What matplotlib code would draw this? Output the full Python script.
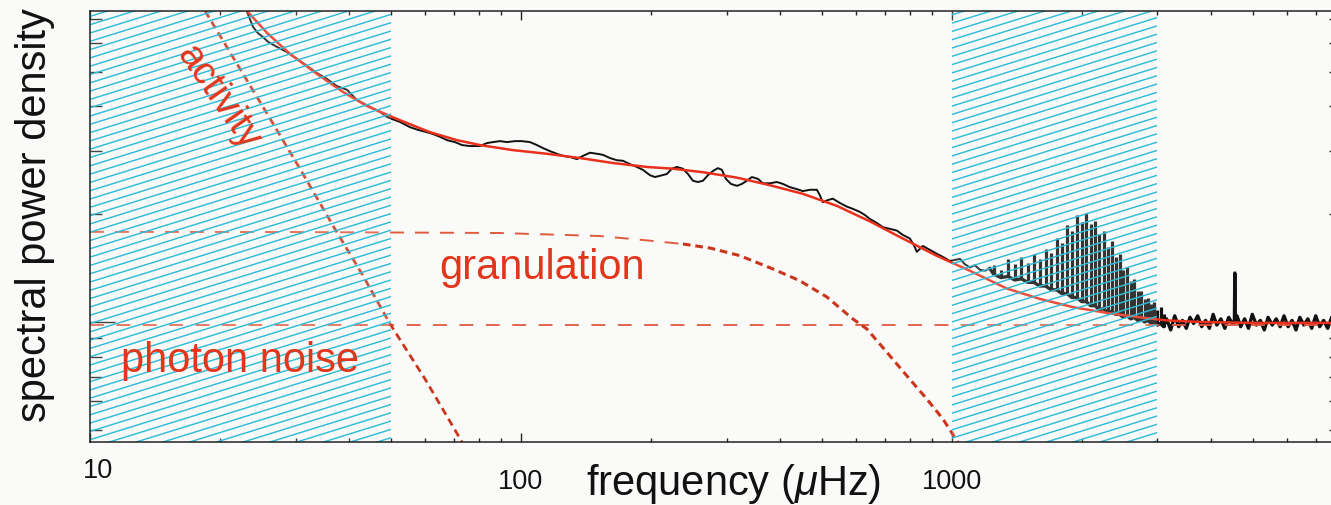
import numpy as np
import matplotlib
matplotlib.use("Agg")
import matplotlib.pyplot as plt
from matplotlib.collections import LineCollection
from matplotlib.ticker import FixedLocator, FixedFormatter, NullFormatter

plt.rcParams['font.family'] = ['Liberation Sans', 'DejaVu Sans']
plt.rcParams['mathtext.fontset'] = 'custom'
plt.rcParams['mathtext.rm'] = 'Liberation Sans'
plt.rcParams['mathtext.it'] = 'Liberation Sans:italic'
plt.rcParams['lines.scale_dashes'] = False

# ---------------------------------------------------------------------------
# Observed (smoothed) power spectrum, frequency in microhertz
spec_freq = [23.1, 23.5, 23.9, 24.5, 25.2, 25.9, 27.2, 28.6, 30.2, 31.9, 33.6, 35.5,
             37.4, 39.5, 41.6, 44.6, 47.1, 48.9, 50.2, 52.4, 55.3, 57.7, 59.9, 62.5,
             64.9, 67.4, 70.3, 73.0, 76.2, 80.3, 83.4, 86.1, 89.4, 92.8, 96.9, 100.5,
             104.9, 108.9, 112.5, 116.8, 121.2, 125.2, 129.9, 134.9, 139.3, 144.6, 150.1,
             155.0, 160.9, 167.0, 172.5, 179.0, 185.8, 191.9, 199.3, 204.6, 210.2, 218.1,
             224.0, 230.1, 237.6, 244.1, 250.7, 257.5, 264.5, 271.6, 279.0, 286.5, 292.7,
             299.0, 307.1, 317.1, 325.7, 334.5, 343.6, 354.8, 364.3, 378.2, 392.6, 405.5,
             420.9, 436.9, 451.1, 468.3, 486.2, 493.9, 501.9, 515.5, 529.5, 549.6, 570.6,
             589.1, 611.6, 628.2, 645.2, 669.9, 691.7, 718.0, 745.4, 769.7, 799.1, 816.3,
             829.4, 842.9, 856.5, 889.2, 923.1, 953.0, 989.4, 1016, 1044, 1072, 1101,
             1131, 1161, 1193, 1225]
spec_power = [7.39, 7.02, 6.67, 6.42, 6.25, 6.06, 5.86, 5.68, 5.43, 5.19, 4.96, 4.77,
              4.56, 4.45, 4.17, 3.99, 3.86, 3.74, 3.69, 3.62, 3.50, 3.44, 3.40, 3.35,
              3.29, 3.22, 3.18, 3.12, 3.10, 3.10, 3.16, 3.18, 3.20, 3.18, 3.20, 3.20,
              3.18, 3.12, 3.06, 3.00, 2.95, 2.91, 2.89, 2.85, 2.91, 2.97, 2.95,
              2.93, 2.87, 2.83, 2.82, 2.76, 2.71, 2.66, 2.57, 2.54, 2.56, 2.59,
              2.68, 2.71, 2.68, 2.59, 2.48, 2.46, 2.48, 2.57, 2.64, 2.69, 2.66,
              2.51, 2.43, 2.40, 2.43, 2.48, 2.54, 2.51, 2.44, 2.44, 2.46, 2.43,
              2.38, 2.35, 2.32, 2.34, 2.34, 2.26, 2.16, 2.19, 2.21, 2.15, 2.10,
              2.07, 2.03, 1.99, 1.94, 1.89, 1.84, 1.82, 1.80, 1.75, 1.71, 1.64,
              1.57, 1.60, 1.63, 1.59, 1.55, 1.52, 1.48, 1.49, 1.50, 1.45, 1.42,
              1.44, 1.40, 1.39, 1.41]

# p-mode comb: mode frequency, peak height, level at the foot of each peak
mode_freq = [1250, 1300, 1350, 1400, 1450, 1500, 1550, 1600, 1650, 1700, 1750, 1800,
             1850, 1900, 1950, 2000, 2050, 2100, 2150, 2200, 2250, 2300, 2350, 2400,
             2450, 2500, 2550, 2600, 2650, 2700, 2750, 2800, 2850, 2900, 2950, 3000,
             3050, 3100]
mode_top = [1.44, 1.40, 1.50, 1.45, 1.52, 1.46, 1.55, 1.50, 1.60, 1.56, 1.72, 1.66,
            1.87, 1.80, 1.99, 1.90, 2.02, 1.88, 1.92, 1.76, 1.80, 1.62, 1.68, 1.52,
            1.55, 1.40, 1.42, 1.30, 1.32, 1.22, 1.22, 1.16, 1.17, 1.12, 1.14, 1.08,
            1.10, 1.05]
mode_base = [1.36, 1.33, 1.34, 1.31, 1.32, 1.29, 1.29, 1.26, 1.26, 1.23, 1.23, 1.20,
             1.20, 1.17, 1.17, 1.14, 1.14, 1.11, 1.11, 1.08, 1.09, 1.06, 1.07, 1.05,
             1.05, 1.03, 1.04, 1.02, 1.03, 1.01, 1.02, 1.00, 1.01, 0.99, 1.00, 0.98,
             0.99, 0.97]

# white-noise dominated high-frequency end
noise_freq = [3150, 3220, 3290, 3360, 3430, 3500, 3570, 3640, 3720, 3800, 3880, 3960,
              4040, 4120, 4210, 4300, 4390, 4480, 4526, 4536, 4546, 4590, 4680, 4780,
              4880, 4980, 5090, 5200, 5310, 5420, 5540, 5660, 5780, 5900, 6030, 6160,
              6290, 6420, 6560, 6700, 6840, 6990, 7140, 7290, 7450, 7610, 7770, 7940]
noise_power = [1.02, 0.95, 1.04, 0.97, 1.01, 0.96, 1.03, 0.99, 1.04, 0.97, 1.01, 0.96,
               1.05, 0.98, 1.02, 0.96, 1.03, 0.99, 1.00, 1.37, 1.00, 1.04, 0.97, 1.02,
               0.96, 1.05, 0.98, 1.01, 0.95, 1.03, 0.98, 1.02, 0.97, 1.04, 0.97, 1.01,
               0.95, 1.03, 0.98, 1.02, 0.96, 1.04, 0.97, 1.01, 0.96, 1.03, 0.98, 1.01]

# global background fit
fit_freq = [23.0, 25.75, 29.11, 33.63, 38.64, 43.92, 51.56, 61.5, 71.04, 80.34, 95.8,
            114.9, 137.1, 163.5, 196.0, 225.3, 264.5, 317.1, 378.2, 451.1, 541.1, 645.2,
            769.6, 923.0, 1101, 1341, 1600, 1909, 2289, 2731, 3154, 3762, 4914, 8000]
fit_power = [7.45, 6.42, 5.61, 4.93, 4.39, 4.01, 3.69, 3.39, 3.22, 3.12, 3.02,
             2.95, 2.87, 2.78, 2.71, 2.68, 2.62, 2.53, 2.41, 2.28, 2.11, 1.91,
             1.71, 1.53, 1.39, 1.24, 1.16, 1.10, 1.06, 1.03, 1.01, 1.00, 0.994, 0.994]

# background components
act_freq = [18.5, 22.3, 26.2, 30.7, 37.0, 42.8, 49.7, 59.9, 73.0]
act_power = [7.39, 5.09, 3.69, 2.68, 1.82, 1.36, 0.987, 0.693, 0.462]

gran_freq = [10, 30, 89.4, 152.5, 199, 237.7, 274.5, 322, 384.5, 443.6, 512.9, 589,
             635, 706, 786.5, 875, 953, 1005, 1040]
gran_power = [1.785, 1.783, 1.772, 1.738, 1.687, 1.651, 1.609, 1.532, 1.406, 1.304,
              1.174, 1.020, 0.956, 0.824, 0.707, 0.609, 0.536, 0.486, 0.455]

photon_level = 0.98

# shaded frequency ranges
bands = [(10, 50), (1000, 3000)]

x_major = [10, 100, 1000]
x_major_labels = ['10', '100', '1000']
x_minor = [20, 30, 40, 50, 60, 70, 80, 90, 200, 300, 400, 500, 600, 700, 800, 900,
           2000, 3000, 4000, 5000, 6000, 7000, 8000]
y_major = [1]
y_minor = [0.5, 0.6, 0.7, 0.8, 0.9, 2, 3, 4, 5, 6, 7]

# ---------------------------------------------------------------------------
BG = '#fafbf8'
INK = '#111111'
FIT_RED = '#e8301c'
COMP_RED = '#c8361e'
NOISE_RED = '#e05a40'
LABEL_RED = '#e2361c'
HATCH = '#30bcd8'

W, H = 1331, 506
fig = plt.figure(figsize=(W / 100, H / 100), dpi=100, facecolor=BG)
ax_l, ax_b, ax_w, ax_h = 90, 63, 1251, 431
ax = fig.add_axes([ax_l / W, ax_b / H, ax_w / W, ax_h / H])
ax.set_facecolor(BG)
ax.set_xscale('log')
ax.set_yscale('log')
ax.set_xlim(10, 8000)
ax.set_ylim(0.462, 7.39)

# spectrum and oscillation peaks
n_low = len(spec_freq)
black_f = spec_freq + mode_freq + noise_freq
black_p = spec_power + mode_base + noise_power
ax.plot(black_f[:n_low], black_p[:n_low], color=INK, lw=1.4, zorder=2)
ax.plot(black_f[n_low - 1:], black_p[n_low - 1:], color=INK, lw=2.4, zorder=2)
ax.vlines(mode_freq, mode_base, mode_top, color=INK, lw=2.3, zorder=2)

# components
ax.axhline(photon_level, color=NOISE_RED, lw=1.3, dashes=(10, 9), zorder=2.5)
ax.plot(gran_freq[:6], gran_power[:6], color=NOISE_RED, lw=1.4, dashes=(10, 8), zorder=2.5)
ax.plot(gran_freq[5:], gran_power[5:], color=COMP_RED, lw=2.2, dashes=(5.5, 3.5), zorder=2.5)
ax.plot(act_freq, act_power, color=COMP_RED, lw=2.0, dashes=(5.5, 3.5), zorder=2.5)

# total fit
ax.plot(fit_freq, fit_power, color=FIT_RED, lw=1.8, zorder=3)

# hatched bands drawn over the data
slope = 0.31 * ax_w / ax_h
step = 8.3 / ax_h
offsets = np.arange(-slope - step, 1 + step, step)
for lo, hi in bands:
    band = ax.axvspan(lo, hi, facecolor=(1, 1, 1, 0.15), edgecolor='none', zorder=4)
    segs = [[(0, c), (1, c + slope)] for c in offsets]
    lc = LineCollection(segs, colors=HATCH, linewidths=1.05,
                        transform=ax.transAxes, zorder=4.5)
    ax.add_collection(lc, autolim=False)
    lc.set_clip_path(band)

# ticks (the first decade label is placed by hand, just inside the corner)
ax.xaxis.set_major_locator(FixedLocator(x_major))
ax.xaxis.set_major_formatter(FixedFormatter([''] + x_major_labels[1:]))
ax.xaxis.set_minor_locator(FixedLocator(x_minor))
ax.xaxis.set_minor_formatter(NullFormatter())
ax.yaxis.set_major_locator(FixedLocator(y_major))
ax.yaxis.set_minor_locator(FixedLocator(y_minor))
ax.yaxis.set_major_formatter(NullFormatter())
ax.yaxis.set_minor_formatter(NullFormatter())
ax.tick_params(axis='x', which='major', direction='in', length=6.2, width=1.0,
               top=True, bottom=True, labelsize=19.5, pad=19, colors='#222222',
               labelcolor='#111111')
ax.tick_params(axis='x', which='minor', direction='in', length=3.1, width=1.0,
               top=True, bottom=True, colors='#222222')
ax.tick_params(axis='y', which='major', direction='in', length=17.9, width=1.0,
               left=True, right=True, colors='#222222')
ax.tick_params(axis='y', which='minor', direction='in', length=8.9, width=1.0,
               left=True, right=True, colors='#222222')
for sp in ax.spines.values():
    sp.set_linewidth(1.1)
    sp.set_color('#222222')
    sp.set_zorder(6)


def px(x, y):
    return x / W, 1 - y / H


fig.text(*px(98, 478), x_major_labels[0], fontsize=19.5, ha='center',
         va='baseline', color='#111111')

# axis titles
fig.text(*px(734, 495), r'frequency ($\mu$Hz)', fontsize=30, ha='center',
         va='baseline', color='#111111')
fig.text(*px(35, 215), 'spectral power density', fontsize=30, rotation=90,
         ha='center', va='center', color='#111111')

# component labels
fig.text(*px(218, 97), 'activity', fontsize=28, rotation=-55, ha='center',
         va='center', rotation_mode='anchor', color=LABEL_RED, zorder=7)
fig.text(*px(542, 279), 'granulation', fontsize=30, ha='center', va='baseline',
         color=LABEL_RED, zorder=7)
fig.text(*px(240, 372), 'photon noise', fontsize=30, ha='center', va='baseline',
         color=LABEL_RED, zorder=7)

fig.savefig('out.png', dpi=100, facecolor=BG)
